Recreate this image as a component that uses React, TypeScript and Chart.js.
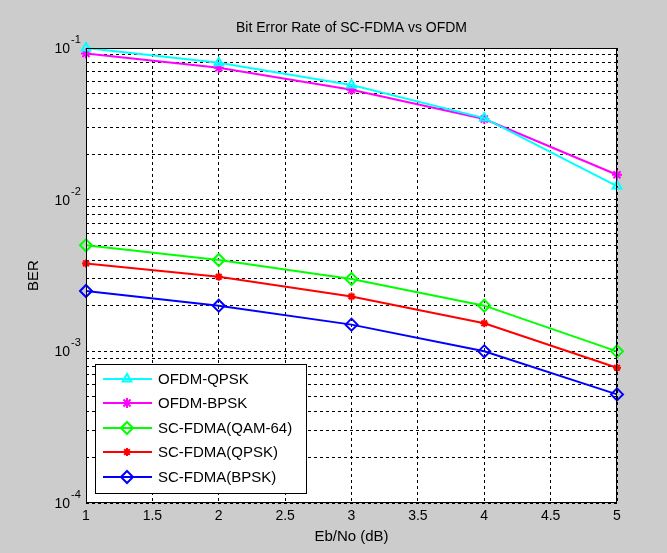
import React, { useEffect, useRef } from "react";
import { Chart, registerables } from "chart.js";
import { drawPoint } from "chart.js/helpers";

Chart.register(...registerables);

const xValues = [1, 2, 3, 4, 5];
const ofdmQpsk = [0.1, 0.08, 0.057, 0.0345, 0.0123];
const ofdmBpsk = [0.092, 0.074, 0.053, 0.034, 0.0146];
const scQam64 = [0.005, 0.004, 0.003, 0.002, 0.001];
const scQpsk = [0.0038, 0.0031, 0.0023, 0.00153, 0.00078];
const scBpsk = [0.0025, 0.002, 0.0015, 0.001, 0.00052];

const seriesNames = ["OFDM-QPSK", "OFDM-BPSK", "SC-FDMA(QAM-64)", "SC-FDMA(QPSK)", "SC-FDMA(BPSK)"];
const seriesColors = ["#00ffff", "#ff00ff", "#00ff00", "#ff0000", "#0000ff"];
const seriesMarkers = ["triangle", "star", "rectRot", "star", "rectRot"];
const seriesRadius = [5, 5, 6, 4, 6];

const xTickValues = [1, 1.5, 2, 2.5, 3, 3.5, 4, 4.5, 5];
const yDecadeExps = [-4, -3, -2, -1];

const TITLE = "Bit Error Rate of SC-FDMA vs OFDM";
const X_LABEL = "Eb/No (dB)";
const Y_LABEL = "BER";
const FONT = "'Liberation Sans', Arial, sans-serif";

const allSeries = [ofdmQpsk, ofdmBpsk, scQam64, scQpsk, scBpsk];

export default function App() {
  const ref = useRef<HTMLCanvasElement>(null);

  useEffect(() => {
    const canvas = ref.current!;
    const decorPlugin = {
      id: "decor",
      beforeDraw(chart: any) {
        const { ctx, chartArea: a } = chart;
        ctx.save();
        ctx.fillStyle = "#cccccc";
        ctx.fillRect(0, 0, chart.width, chart.height);
        ctx.fillStyle = "#ffffff";
        ctx.fillRect(a.left, a.top, a.right - a.left, a.bottom - a.top);
        ctx.restore();
      },
      afterDatasetsDraw(chart: any) {
        const { ctx, chartArea: a } = chart;
        ctx.save();
        ctx.strokeStyle = "#000";
        ctx.lineWidth = 1;
        ctx.setLineDash([]);
        ctx.strokeRect(a.left + 0.5, a.top + 0.5, a.right - a.left - 1, a.bottom - a.top - 1);
        ctx.restore();
      },
      afterDraw(chart: any) {
        const { ctx, chartArea: a } = chart;
        const ys = chart.scales.y;
        ctx.save();
        ctx.fillStyle = "#000";
        for (const e of yDecadeExps) {
          const y = ys.getPixelForValue(Math.pow(10, e));
          ctx.font = `14px ${FONT}`;
          ctx.textAlign = "right";
          ctx.textBaseline = "middle";
          ctx.fillText("10", 70, y + 1);
          ctx.font = `11px ${FONT}`;
          ctx.textAlign = "left";
          ctx.fillText(String(e), 71, y - 8);
        }
        ctx.font = `14px ${FONT}`;
        ctx.textAlign = "center";
        ctx.textBaseline = "middle";
        ctx.fillText(TITLE, (a.left + a.right) / 2, 28);
        ctx.font = `15px ${FONT}`;
        ctx.fillText(X_LABEL, (a.left + a.right) / 2, 537);
        ctx.save();
        ctx.translate(34, (a.top + a.bottom) / 2);
        ctx.rotate(-Math.PI / 2);
        ctx.fillText(Y_LABEL, 0, 0);
        ctx.restore();
        const lx = 95, ly = 364, lw = 211, lh = 129;
        ctx.fillStyle = "#fff";
        ctx.fillRect(lx, ly, lw, lh);
        ctx.strokeStyle = "#000";
        ctx.lineWidth = 1;
        ctx.strokeRect(lx + 0.5, ly + 0.5, lw, lh);
        const rowY = [379, 403, 428, 452, 477];
        seriesNames.forEach((name, i) => {
          const y = rowY[i];
          ctx.strokeStyle = seriesColors[i];
          ctx.lineWidth = 2;
          ctx.beginPath();
          ctx.moveTo(103, y);
          ctx.lineTo(152, y);
          ctx.stroke();
          ctx.fillStyle = "rgba(0,0,0,0)";
          drawPoint(ctx, { pointStyle: seriesMarkers[i], radius: seriesRadius[i], borderWidth: 2, rotation: 0 } as any, 127, y);
          ctx.fillStyle = "#000";
          ctx.font = `15px ${FONT}`;
          ctx.textAlign = "left";
          ctx.textBaseline = "middle";
          ctx.fillText(name, 158, y + 1);
        });
        ctx.restore();
      },
    };

    const chart = new Chart(canvas, {
      type: "line",
      data: {
        datasets: allSeries.map((vals, i) => ({
          label: seriesNames[i],
          data: vals.map((v, j) => ({ x: xValues[j], y: v })),
          borderColor: seriesColors[i],
          backgroundColor: "rgba(0,0,0,0)",
          borderWidth: 2,
          pointStyle: seriesMarkers[i] as any,
          pointRadius: seriesRadius[i],
          pointBorderWidth: 2,
          pointBorderColor: seriesColors[i],
          pointBackgroundColor: "rgba(0,0,0,0)",
          tension: 0,
          clip: false as any,
        })),
      },
      plugins: [decorPlugin],
      options: {
        responsive: false,
        animation: false,
        devicePixelRatio: 1,
        layout: { padding: { top: 48, right: 50, left: 0, bottom: 0 } },
        plugins: { legend: { display: false }, title: { display: false }, tooltip: { enabled: false } },
        scales: {
          x: {
            type: "linear",
            min: 1,
            max: 5,
            afterBuildTicks: (s: any) => {
              s.ticks = xTickValues.map((v) => ({ value: v }));
            },
            afterFit: (s: any) => {
              s.height = 50;
            },
            ticks: {
              color: "#000",
              font: { family: FONT, size: 14 },
              padding: 5,
              autoSkip: false,
              maxRotation: 0,
              callback: (v: any) => String(Number(v)),
            },
            grid: { color: "#000", lineWidth: 1, drawTicks: false },
            border: { display: false, dash: [3, 3] },
          },
          y: {
            type: "logarithmic",
            min: 1e-4,
            max: 1e-1,
            afterBuildTicks: (s: any) => {
              const t: any[] = [];
              for (const e of yDecadeExps) {
                if (e === -1) {
                  t.push({ value: 0.1 });
                  continue;
                }
                for (let k = 1; k <= 9; k++) t.push({ value: k * Math.pow(10, e) });
              }
              s.ticks = t;
            },
            afterFit: (s: any) => {
              s.width = 86;
            },
            ticks: { display: false },
            grid: { color: "#000", lineWidth: 1, drawTicks: false },
            border: { display: false, dash: [3, 3] },
          },
        },
      },
    });
    return () => chart.destroy();
  }, []);

  return (
    <div style={{ position: "absolute", left: 0, top: 0, width: 667, height: 553, background: "#cccccc" }}>
      <canvas ref={ref} width={667} height={553} style={{ display: "block", width: 667, height: 553 }} />
    </div>
  );
}
